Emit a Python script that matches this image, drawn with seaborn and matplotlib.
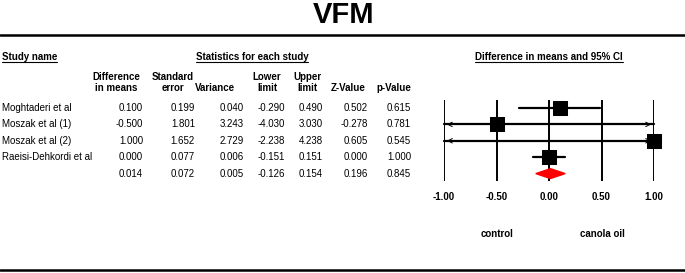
import seaborn as sns
import matplotlib.pyplot as plt
import numpy as np
import pandas as pd

# study data
studies = ['Moghtaderi et al', 'Moszak et al (1)', 'Moszak et al (2)', 'Raeisi-Dehkordi et al']
diff = [0.100, -0.500, 1.000, 0.000]
se = [0.199, 1.801, 1.652, 0.077]
var = [0.040, 3.243, 2.729, 0.006]
lower = [-0.290, -4.030, -2.238, -0.151]
upper = [0.490, 3.030, 4.238, 0.151]
zval = [0.502, -0.278, 0.605, 0.000]
pval = [0.615, 0.781, 0.545, 1.000]

# pooled (summary) row
pooled = [0.014, 0.072, 0.005, -0.126, 0.154, 0.196, 0.845]

col_heads = ['Difference\nin means', 'Standard\nerror', 'Variance', 'Lower\nlimit',
             'Upper\nlimit', 'Z-Value', 'p-Value']
x_ticks = [-1.0, -0.5, 0.0, 0.5, 1.0]

sns.set_theme(style='white')
plt.rcParams['font.family'] = ['Liberation Sans', 'DejaVu Sans']
plt.rcParams['text.color'] = 'black'

W, H = 685, 273
fig = plt.figure(figsize=(W / 100, H / 100), dpi=100)

# background axes in pixel coordinates for the table text
bg = fig.add_axes([0, 0, 1, 1])
bg.set_xlim(0, W)
bg.set_ylim(H, 0)
bg.axis('off')

bg.text(W / 2 + 1, 15, 'VFM', ha='center', va='center', fontsize=21, fontweight='bold')
bg.plot([0, W], [35, 35], color='black', lw=1.8)
bg.plot([0, W], [270, 270], color='black', lw=1.8)

heads = [
    bg.text(2, 57, 'Study name', ha='left', va='center', fontsize=7, fontweight='bold'),
    bg.text(252, 57, 'Statistics for each study', ha='center', va='center', fontsize=7, fontweight='bold'),
    bg.text(549, 57, 'Difference in means and 95% CI', ha='center', va='center', fontsize=7, fontweight='bold'),
]

col_right = [143, 195, 244, 285, 323, 368, 411]
col_center = [116, 173, 215, 267, 307, 348, 394]
for cx, h in zip(col_center, col_heads):
    bg.text(cx, 93, h, ha='center', va='bottom', fontsize=7, fontweight='bold',
            multialignment='center', linespacing=1.15)

row_y0, row_dy = 108, 16.4
table = list(zip(diff, se, var, lower, upper, zval, pval))
for i, (name, vals) in enumerate(zip(studies, table)):
    y = row_y0 + i * row_dy
    bg.text(2, y, name, ha='left', va='center', fontsize=7)
    for xr, v in zip(col_right, vals):
        bg.text(xr, y, f'{v:.3f}', ha='right', va='center', fontsize=7)
y = row_y0 + 4 * row_dy
for xr, v in zip(col_right, pooled):
    bg.text(xr, y, f'{v:.3f}', ha='right', va='center', fontsize=7)

# forest plot axes
ax_left, ax_right, ax_top, ax_bot = 444, 654, 100, 181
ax = fig.add_axes([ax_left / W, 1 - ax_bot / H, (ax_right - ax_left) / W, (ax_bot - ax_top) / H])
for t in x_ticks:
    ax.axvline(t, color='black', lw=1.4)

df = pd.DataFrame({'study': studies, 'diff': diff, 'lower': lower, 'upper': upper})
df['row'] = np.arange(len(df))
for _, r in df.iterrows():
    lo = max(r['lower'], -1)
    hi = min(r['upper'], 1)
    ax.plot([lo, hi], [r['row'], r['row']], color='black', lw=1.6, clip_on=False)
    if r['lower'] < -1:
        ax.annotate('', xy=(-1, r['row']), xytext=(-0.9, r['row']),
                    arrowprops=dict(arrowstyle='->', lw=0.7, mutation_scale=8, color='black'),
                    annotation_clip=False)
    if r['upper'] > 1:
        ax.annotate('', xy=(1, r['row']), xytext=(0.9, r['row']),
                    arrowprops=dict(arrowstyle='->', lw=0.7, mutation_scale=8, color='black'),
                    annotation_clip=False)

sns.scatterplot(data=df, x='diff', y='row', marker='s', s=88, color='black',
                edgecolor='black', ax=ax, legend=False, zorder=3, clip_on=False)

# pooled diamond
yd, hd = 4, 0.3
ax.fill([pooled[3], pooled[0], pooled[4], pooled[0]], [yd, yd - hd, yd, yd + hd],
        color='red', zorder=4, clip_on=False)

ax.set_xlim(-1, 1)
ax.set_ylim((ax_bot - row_y0) / row_dy, (ax_top - row_y0) / row_dy)
ax.axis('off')

for t in x_ticks:
    px = ax_left + (t + 1) / 2 * (ax_right - ax_left)
    bg.text(px, 197, f'{t:.2f}', ha='center', va='center', fontsize=7, fontweight='bold')
bg.text(497, 234, 'control', ha='center', va='center', fontsize=7, fontweight='bold')
bg.text(602, 234, 'canola oil', ha='center', va='center', fontsize=7, fontweight='bold')

# underline the section headers
fig.canvas.draw()
rend = fig.canvas.get_renderer()
inv = bg.transData.inverted()
for t in heads:
    bb = t.get_window_extent(rend)
    (x0, y0), (x1, _) = inv.transform([[bb.x0, bb.y0], [bb.x1, bb.y1]])
    bg.plot([x0, x1], [y0 + 0.3, y0 + 0.3], color='black', lw=0.8)

fig.savefig('out.png', dpi=100)
